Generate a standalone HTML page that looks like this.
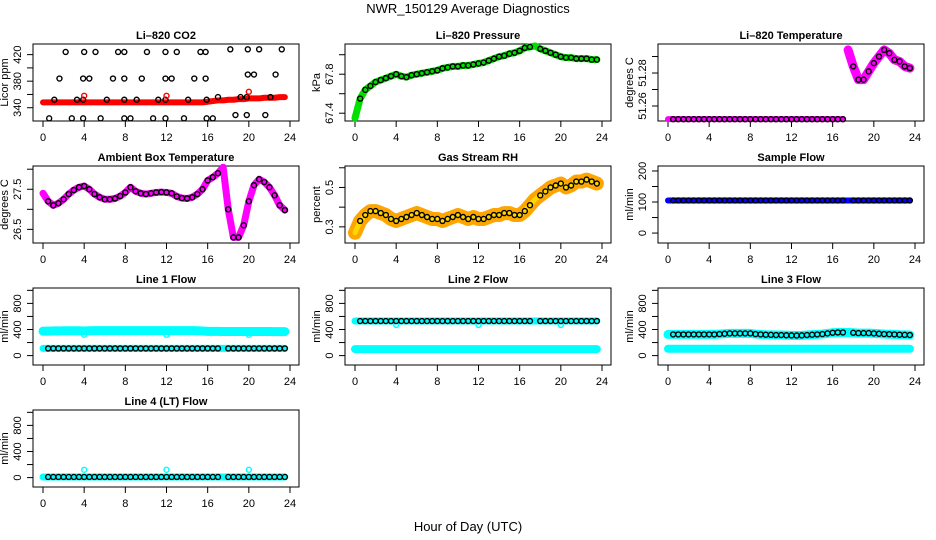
<!DOCTYPE html>
<html><head><meta charset="utf-8">
<style>
html,body{margin:0;padding:0;background:#fff;}
svg{display:block;font-family:"Liberation Sans",Arial,sans-serif;}
</style></head>
<body>
<svg id="chart" width="936" height="540" viewBox="0 0 936 540">
<text x="468" y="13" font-size="13" text-anchor="middle">NWR_150129  Average Diagnostics</text>
<text x="468" y="531" font-size="13" text-anchor="middle">Hour of Day (UTC)</text>
</svg>
<script>
const hours=[0,0.5,1,1.5,2,2.5,3,3.5,4,4.5,5,5.5,6,6.5,7,7.5,8,8.5,9,9.5,10,10.5,11,11.5,12,12.5,13,13.5,14,14.5,15,15.5,16,16.5,17,17.5,18,18.5,19,19.5,20,20.5,21,21.5,22,22.5,23,23.5];
const xTicks=[0,4,8,12,16,20,24];
const co2Band=[348,348,348,348,348,348,348,348,348,348,348,348,348,348,348,348,348,348,348,348,348,348,348,348,348,348,348,348,348,348,348,348,349,350,351,351,352,352,353,353,354,354,354,355,355,355,356,356];
const co2OutX=[2.2,4,5.1,7.3,7.9,10.1,11.9,13,15.3,15.8,18.2,19.9,21,23.2,1.6,3.9,4.5,6.8,7.9,9.6,11.9,12.5,14.7,15.8,19.9,20.5,22.6,1.1,3.3,3.9,6.2,7.9,9.1,11.2,11.9,14.1,15.9,17,19.2,19.8,22.1,0.6,2.8,3.9,5.6,7.9,8.5,10.7,11.9,13.7,15.9,16.5,18.7,19.8,21.6];
const co2OutY=[424,424,424,424,424,424,424,424,424,424,428,428,428,428,384,384,384,384,384,384,384,384,384,384,390,390,390,352,352,352,352,352,352,352,352,352,352,356,356,356,356,324,324,324,324,324,324,324,324,324,324,324,329,329,329];
const co2RedX=[4,12,20];
const co2RedY=[358,358,364];
const pressure=[67.35,67.55,67.64,67.68,67.72,67.74,67.76,67.78,67.8,67.78,67.77,67.79,67.8,67.81,67.82,67.83,67.84,67.86,67.87,67.88,67.88,67.89,67.89,67.9,67.91,67.92,67.94,67.96,67.98,67.99,68.01,68.02,68.04,68.07,68.08,68.09,68.06,68.04,68.02,68.0,67.98,67.97,67.97,67.96,67.96,67.96,67.95,67.95];
const liTemp=[51.252,51.252,51.252,51.252,51.252,51.252,51.252,51.252,51.252,51.252,51.252,51.252,51.252,51.252,51.252,51.252,51.252,51.252,51.252,51.252,51.252,51.252,51.252,51.252,51.252,51.252,51.252,51.252,51.252,51.252,51.252,51.252,51.252,51.252,51.252,51.294,51.284,51.276,51.276,51.281,51.286,51.290,51.294,51.292,51.288,51.287,51.284,51.283];
const ambient=[27.4,27.2,27.1,27.15,27.25,27.38,27.48,27.55,27.58,27.5,27.38,27.3,27.25,27.25,27.27,27.33,27.42,27.55,27.45,27.4,27.38,27.4,27.42,27.43,27.42,27.4,27.32,27.28,27.27,27.3,27.38,27.5,27.72,27.8,27.9,28.05,27.0,26.3,26.3,26.6,27.2,27.6,27.75,27.68,27.55,27.35,27.1,26.98];
const rh=[0.27,0.33,0.36,0.38,0.38,0.37,0.36,0.34,0.33,0.34,0.35,0.36,0.37,0.36,0.35,0.34,0.34,0.33,0.34,0.35,0.36,0.35,0.34,0.35,0.34,0.34,0.35,0.36,0.36,0.37,0.37,0.36,0.36,0.38,0.41,0.44,0.46,0.48,0.5,0.51,0.52,0.5,0.51,0.53,0.53,0.54,0.53,0.52];
const sampleFlow=[105,105,105,105,105,105,105,105,105,105,105,105,105,105,105,105,105,105,105,105,105,105,105,105,105,105,105,105,105,105,105,105,105,105,105,105,105,105,105,105,105,105,105,105,105,105,105,105];
const line1Hi=[375,375,378,378,380,380,380,380,378,380,382,382,382,382,382,382,382,382,382,382,382,382,382,382,382,382,382,382,382,382,380,378,372,372,372,370,370,370,370,370,370,370,370,370,370,368,368,368];
const line1Lo=[110,110,110,110,110,110,110,110,110,110,110,110,110,110,110,110,110,110,110,110,110,110,110,110,110,110,110,110,110,110,110,110,110,110,110,110,110,110,110,110,110,110,110,110,110,110,110,110];
const line2Hi=[530,530,530,530,530,530,530,530,530,530,530,530,530,530,530,530,530,530,530,530,530,530,530,530,530,530,530,530,530,530,530,530,530,530,530,530,530,530,530,530,530,530,530,530,530,530,530,530];
const line2Lo=[100,100,100,100,100,100,100,100,100,100,100,100,100,100,100,100,100,100,100,100,100,100,100,100,100,100,100,100,100,100,100,100,100,100,100,100,100,100,100,100,100,100,100,100,100,100,100,100];
const line3Hi=[325,325,325,325,325,325,325,325,325,325,330,335,340,340,340,340,340,330,325,320,318,315,315,312,310,308,310,315,320,325,330,340,350,355,355,355,350,345,345,345,340,335,330,328,325,320,318,315];
const line3Lo=[105,105,105,105,105,105,105,105,105,105,105,105,105,105,105,105,105,105,105,105,105,105,105,105,105,105,105,105,105,105,105,105,105,105,105,105,105,105,105,105,105,105,105,105,105,105,105,105];
const line4=[10,10,10,10,10,10,10,10,10,10,10,10,10,10,10,10,10,10,10,10,10,10,10,10,10,10,10,10,10,10,10,10,10,10,10,10,10,10,10,10,10,10,10,10,10,10,10,10];
const flowSpikeX=[4,12,20];
const line1SpikeY=[320,320,320];
const line2SpikeY=[470,470,470];
const line4SpikeY=[120,120,120];

const NS='http://www.w3.org/2000/svg';
const svg=document.getElementById('chart');
const colL=[33,345,658],rowT=[44,166,288,410],W=266,H=77;
function mk(tag,attrs,parent){const e=document.createElementNS(NS,tag);for(const k in attrs)e.setAttribute(k,attrs[k]);(parent||svg).appendChild(e);return e;}

function panel(name,title,unit,col,row,ymin,ymax,yTicks,yLabels){
  const L=colL[col],T=rowT[row];
  const g=mk('g',{});
  
  
  const xs=h=>L+10+h*247/24;
  const ys=v=>T+H-(v-ymin)/(ymax-ymin)*H;
  const t=mk('text',{x:L+W/2,y:T-5,'font-size':11,'font-weight':'bold','text-anchor':'middle'},g);
  t.textContent=title;
  
  
  const fr=mk('rect',{x:L,y:T,width:W,height:H,fill:'none',stroke:'#000','stroke-width':1},g);
  
  
  const xa=mk('g',{},g);
  
  
  xTicks.forEach(v=>{mk('line',{x1:xs(v),x2:xs(v),y1:T+H,y2:T+H+6,stroke:'#000'},xa);
    const tl=mk('text',{x:xs(v),y:T+H+20,'font-size':11,'text-anchor':'middle'},xa);tl.textContent=v;});
  const ya=mk('g',{},g);
  
  
  yTicks.forEach(v=>{mk('line',{x1:L-6,x2:L,y1:ys(v),y2:ys(v),stroke:'#000'},ya);});
  yLabels.forEach(v=>{const yy=ys(v);const tl=mk('text',{x:L-12,y:yy,'font-size':11,'text-anchor':'middle',transform:`rotate(-90 ${L-12} ${yy})`},ya);tl.textContent=v;});
  const cy=T+H/2;
  const ut=mk('text',{x:L-25,y:cy,'font-size':11,'text-anchor':'middle',transform:`rotate(-90 ${L-25} ${cy})`},g);
  ut.textContent=unit;
  
  
  return {g,xs,ys};
}
function band(p,vals,color,w,nm){
  const pts=hours.map((h,i)=>p.xs(h)+','+p.ys(vals[i])).join(' ');
  const pl=mk('polyline',{points:pts,fill:'none',stroke:color,'stroke-width':w,'stroke-linejoin':'round','stroke-linecap':'round'},p.g);
  
  
}
function circles(p,xsArr,ysArr,color,nm,r){
  const gg=mk('g',{},p.g);
  
  
  xsArr.forEach((h,i)=>{mk('circle',{cx:p.xs(h),cy:p.ys(ysArr[i]),r:r||2.5,fill:'none',stroke:color,'stroke-width':1.4},gg);});
}
function blackPts(p,vals,nm){
  const hx=[],vy=[];
  hours.forEach((h,i)=>{if(i>0&&h!==17.5){hx.push(h);vy.push(vals[i]);}});
  circles(p,hx,vy,'#000',nm);
}

let p;
p=panel('co2-panel','Li\u2013820 CO2','Licor ppm',0,0,320,436,[340,360,380,400,420],[340,380,420]);
band(p,co2Band,'#ff0000',6,'co2-series');
circles(p,co2OutX,co2OutY,'#000','co2-hourly-points');
circles(p,co2RedX,co2RedY,'#ff0000','co2-spikes');

p=panel('pressure-panel','Li\u2013820 Pressure','kPa',1,0,67.32,68.11,[67.4,67.6,67.8,68.0],[67.4,67.8]);
band(p,pressure,'#00e000',7,'pressure-series');
blackPts(p,pressure,'pressure-hourly-points');

p=panel('li-temperature-panel','Li\u2013820 Temperature','degrees C',2,0,51.2509,51.2976,[51.26,51.27,51.28,51.29],[51.26,51.28]);
const hA=hours.slice(0,35),vA=liTemp.slice(0,35),hB=hours.slice(35),vB=liTemp.slice(35);
mk('polyline',{points:hA.map((h,i)=>p.xs(h)+','+p.ys(vA[i])).join(' '),fill:'none',stroke:'#ff00ff','stroke-width':6,'stroke-linecap':'round'},p.g);
mk('polyline',{points:hB.map((h,i)=>p.xs(h)+','+p.ys(vB[i])).join(' '),fill:'none',stroke:'#ff00ff','stroke-width':9,'stroke-linejoin':'round','stroke-linecap':'round'},p.g);
blackPts(p,liTemp,'li-temperature-hourly-points');

p=panel('ambient-temperature-panel','Ambient Box Temperature','degrees C',0,1,26.16,28.08,[26.5,27,27.5,28],[26.5,27.5]);
band(p,ambient,'#ff00ff',7,'ambient-temperature-series');
blackPts(p,ambient,'ambient-temperature-hourly-points');

p=panel('rh-panel','Gas Stream RH','percent',1,1,0.218,0.609,[0.3,0.4,0.5,0.6],[0.3,0.5]);
band(p,rh,'#ffa500',14,'rh-series');
band(p,rh,'#ffd700',5,'rh-series-core');
blackPts(p,rh,'rh-hourly-points');

p=panel('sample-flow-panel','Sample Flow','ml/min',2,1,-32,216,[0,50,100,150,200],[0,100,200]);
band(p,sampleFlow,'#0000ff',6,'sample-flow-series');
blackPts(p,sampleFlow,'sample-flow-hourly-points');

const fT=[0,200,400,600,800,1000],fL=[0,400,800];
p=panel('line1-flow-panel','Line 1 Flow','ml/min',0,2,-144,1036,fT,fL);
band(p,line1Hi,'#00ffff',9,'line1-high-series');
band(p,line1Lo,'#00ffff',7,'line1-low-series');
circles(p,flowSpikeX,line1SpikeY,'#00ffff','line1-spikes');
blackPts(p,line1Lo,'line1-hourly-points');

p=panel('line2-flow-panel','Line 2 Flow','ml/min',1,2,-144,1036,fT,fL);
band(p,line2Hi,'#00ffff',7,'line2-high-series');
band(p,line2Lo,'#00ffff',8,'line2-low-series');
circles(p,flowSpikeX,line2SpikeY,'#00ffff','line2-spikes');
blackPts(p,line2Hi,'line2-hourly-points');

p=panel('line3-flow-panel','Line 3 Flow','ml/min',2,2,-144,1036,fT,fL);
band(p,line3Hi,'#00ffff',9,'line3-high-series');
band(p,line3Lo,'#00ffff',8,'line3-low-series');
blackPts(p,line3Hi,'line3-hourly-points');

p=panel('line4-flow-panel','Line 4 (LT) Flow','ml/min',0,3,-144,1036,fT,fL);
band(p,line4,'#00ffff',7,'line4-series');
circles(p,flowSpikeX,line4SpikeY,'#00ffff','line4-spikes');
blackPts(p,line4,'line4-hourly-points');
</script>
</body></html>
